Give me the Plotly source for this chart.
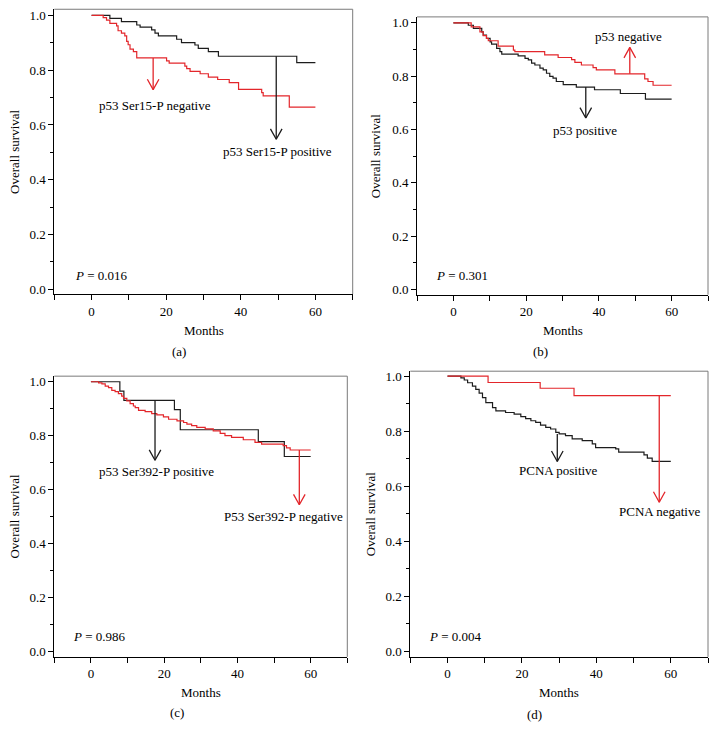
import plotly.graph_objects as go

W, H = 717, 744
FONT = "Liberation Serif"
BLACK = "#1c1c1c"
RED = "#e3262b"
FRAME = "#7a7a7a"

# ---------------- data (months, overall survival) ----------------
# (a) p53 Ser15-P
a_pos_t = [0, 4.9, 8.0, 12.1, 13.0, 16.1, 17.0, 17.9, 22.8, 24.1, 27.7, 28.6, 31.3, 34.0, 55.0, 60]
a_pos_s = [1.0, 0.989, 0.977, 0.965, 0.957, 0.947, 0.935, 0.925, 0.913, 0.901, 0.892, 0.880, 0.868, 0.851, 0.828, 0.828]
a_neg_t = [0, 3.1, 4.0, 4.9, 6.7, 7.1, 8.0, 8.9, 9.4, 9.8, 10.3, 11.2, 12.1, 20.1, 20.8, 25.0, 25.5,
           26.4, 29.1, 31.3, 33.8, 36.9, 39.4, 45.6, 46.0, 53.0, 60]
a_neg_s = [1.0, 0.992, 0.983, 0.971, 0.962, 0.944, 0.935, 0.925, 0.905, 0.893, 0.877, 0.868, 0.845, 0.834, 0.826,
           0.815, 0.806, 0.796, 0.787, 0.775, 0.766, 0.755, 0.730, 0.718, 0.706, 0.665, 0.665]

# (b) p53
b_pos_t = [0, 4.1, 5.5, 7.8, 8.2, 9.1, 10.1, 10.5, 11.9, 12.8, 13.3, 17.8, 19.7, 20.6, 21.5, 22.4, 23.8, 24.7,
           25.6, 26.5, 27.4, 28.3, 30.2, 33.8, 38.8, 45.9, 52.8, 60]
b_pos_s = [1.0, 0.991, 0.979, 0.966, 0.954, 0.942, 0.929, 0.920, 0.904, 0.892, 0.883, 0.876, 0.867, 0.861, 0.849,
           0.842, 0.830, 0.824, 0.811, 0.799, 0.793, 0.780, 0.768, 0.759, 0.749, 0.735, 0.714, 0.714]
b_neg_t = [0, 4.9, 7.3, 8.2, 9.1, 9.6, 12.3, 16.5, 16.9, 25.1, 28.8, 32.5, 33.4, 35.2, 38.4, 39.3, 44.4,
           52.6, 53.5, 54.9, 60]
b_neg_s = [1.0, 0.985, 0.966, 0.952, 0.942, 0.933, 0.913, 0.898, 0.892, 0.880, 0.870, 0.862, 0.852, 0.842, 0.832,
           0.824, 0.809, 0.790, 0.780, 0.766, 0.766]

# (c) p53 Ser392-P
c_pos_t = [0, 7.9, 9.0, 22.8, 24.4, 45.7, 52.8, 60]
c_pos_s = [1.0, 0.965, 0.931, 0.897, 0.822, 0.778, 0.723, 0.723]
c_neg_t = [0, 2.1, 3.0, 3.9, 4.8, 5.7, 6.6, 7.5, 8.4, 8.9, 9.8, 10.7, 11.6, 12.1, 13.0, 14.8, 16.6, 18.0, 19.8,
           21.2, 23.5, 25.3, 26.2, 27.5, 28.9, 31.2, 33.4, 35.3, 36.6, 38.4, 41.6, 44.8, 46.6, 52.5, 53.4, 54.4, 60]
c_neg_s = [1.0, 0.996, 0.992, 0.984, 0.978, 0.968, 0.963, 0.956, 0.947, 0.938, 0.929, 0.919, 0.910, 0.904, 0.894,
           0.889, 0.882, 0.877, 0.870, 0.861, 0.855, 0.849, 0.843, 0.837, 0.831, 0.825, 0.818, 0.809, 0.800,
           0.794, 0.785, 0.775, 0.769, 0.763, 0.755, 0.747, 0.747]

# (d) PCNA
d_pos_t = [0, 3.6, 4.5, 5.4, 6.7, 7.6, 8.5, 9.4, 10.3, 12.1, 13.0, 15.6, 17.9, 19.7, 21.0, 22.4, 23.7, 25.0,
           26.4, 27.7, 29.1, 30.0, 31.7, 33.5, 36.2, 38.9, 39.8, 45.2, 46.0, 52.8, 53.7, 55.0, 60]
d_pos_s = [1.0, 0.994, 0.986, 0.976, 0.964, 0.952, 0.938, 0.922, 0.904, 0.886, 0.874, 0.868, 0.862, 0.853, 0.846,
           0.838, 0.832, 0.822, 0.814, 0.808, 0.796, 0.790, 0.784, 0.772, 0.766, 0.754, 0.740, 0.736, 0.724,
           0.714, 0.702, 0.690, 0.690]
d_neg_t = [0, 10.9, 24.9, 34.0, 60]
d_neg_s = [1.0, 0.977, 0.956, 0.929, 0.929]

# arrows: (month, survival at start, survival at tip)
a_arrows = [(16.5, 0.845, 0.729, "red"), (49.5, 0.851, 0.548, "black")]
b_arrows = [(36.4, 0.759, 0.643, "black"), (48.5, 0.809, 0.908, "red")]
c_arrows = [(17.5, 0.931, 0.709, "black"), (56.9, 0.747, 0.544, "red")]
d_arrows = [(29.5, 0.790, 0.690, "black"), (56.9, 0.929, 0.542, "red")]

# curve labels: (text, month, survival)
a_labels = [("p53 Ser15-P negative", 17.0, 0.672), ("p53 Ser15-P positive", 49.8, 0.503)]
b_labels = [("p53 negative", 48.2, 0.950), ("p53 positive", 36.1, 0.596)]
c_labels = [("p53 Ser392-P positive", 17.8, 0.666), ("P53 Ser392-P negative", 52.5, 0.502)]
d_labels = [("PCNA positive", 29.7, 0.656), ("PCNA negative", 57.0, 0.509)]

p_values = ["0.016", "0.301", "0.986", "0.004"]
p_pos = [(-4.9, 0.052), (-5.2, 0.053), (-5.5, 0.056), (-5.6, 0.054)]
panel_letters = ["(a)", "(b)", "(c)", "(d)"]

x_ticks = [0, 20, 40, 60]
y_ticks = [0.0, 0.2, 0.4, 0.6, 0.8, 1.0]

# ---------------- layout geometry (pixels) ----------------
# box: left, right, top, bottom ; yr: y-range
panels = [
    dict(box=(54.3, 352.7, 7.3, 294.0), yr=(-0.017, 1.0225), months=(204, 331), letter=(179, 352), ylab=(15, 151),
         curves=[(a_pos_t, a_pos_s, BLACK), (a_neg_t, a_neg_s, RED)], arrows=a_arrows, labels=a_labels),
    dict(box=(417.0, 708.0, 15.0, 294.7), yr=(-0.020, 1.0224), months=(563, 331), letter=(540.7, 352), ylab=(376.3, 155),
         curves=[(b_pos_t, b_pos_s, BLACK), (b_neg_t, b_neg_s, RED)], arrows=b_arrows, labels=b_labels),
    dict(box=(54.3, 347.3, 376.7, 659.3), yr=(-0.0195, 1.0206), months=(200.7, 694.7), letter=(176.7, 715.3), ylab=(15, 518),
         curves=[(c_pos_t, c_pos_s, BLACK), (c_neg_t, c_neg_s, RED)], arrows=c_arrows, labels=c_labels),
    dict(box=(410.3, 708.0, 371.7, 659.3), yr=(-0.020, 1.018), months=(559, 694.7), letter=(534.7, 717), ylab=(370.7, 515),
         curves=[(d_pos_t, d_pos_s, BLACK), (d_neg_t, d_neg_s, RED)], arrows=d_arrows, labels=d_labels),
]
XR = (-10, 70)

fig = go.Figure()
annotations = []
shapes = []
layout = {}

def px_x(v):
    return v / W

def px_y(v):
    return 1 - v / H

for i, p in enumerate(panels):
    n = "" if i == 0 else str(i + 1)
    xa, ya = "x" + n, "y" + n
    L, R, T, B = p["box"]
    y0, y1 = p["yr"]
    font = dict(family=FONT, size=13, color="black")
    layout["xaxis" + n] = dict(
        domain=[px_x(L), px_x(R)], range=list(XR), anchor=ya, showgrid=False, zeroline=False,
        showline=True, linecolor="black", linewidth=1, mirror=False,
        ticks="outside", ticklen=5, tickwidth=1, tickcolor="black",
        tickvals=x_ticks, tickfont=font,
        minor=dict(tickvals=[-10, 10, 30, 50, 70], ticks="outside", ticklen=5, tickcolor="black"),
    )
    layout["yaxis" + n] = dict(
        domain=[px_y(B), px_y(T)], range=[y0, y1], anchor=xa, showgrid=False, zeroline=False,
        showline=True, linecolor="black", linewidth=1,
        ticks="outside", ticklen=5, tickwidth=1, tickcolor="black",
        tickvals=y_ticks, ticktext=["%.1f" % v for v in y_ticks], tickfont=font,
        minor=dict(tickvals=[0.1, 0.3, 0.5, 0.7, 0.9], ticks="outside", ticklen=3, tickcolor="black"),
    )
    # top / right frame
    shapes.append(dict(type="line", xref=xa + " domain", yref=ya + " domain", x0=0, x1=1, y0=1, y1=1,
                       line=dict(color=FRAME, width=1)))
    shapes.append(dict(type="line", xref=xa + " domain", yref=ya + " domain", x0=1, x1=1, y0=0, y1=1,
                       line=dict(color=FRAME, width=1)))

    for t, s, col in p["curves"]:
        fig.add_trace(go.Scatter(x=t, y=s, mode="lines", line=dict(color=col, width=1.2, shape="hv"),
                                 xaxis=xa, yaxis=ya, showlegend=False, hoverinfo="skip"))

    # arrows
    sx = (R - L) / (XR[1] - XR[0])        # px per month
    sy = (B - T) / (y1 - y0)              # px per survival unit
    hx, hy = 5.8 / sx, 10.5 / sy
    for (mx, s0, s1, c) in p["arrows"]:
        col = RED if c == "red" else BLACK
        d = 1 if s1 < s0 else -1
        fig.add_trace(go.Scatter(x=[mx, mx], y=[s0, s1], mode="lines", line=dict(color=col, width=1.3),
                                 xaxis=xa, yaxis=ya, showlegend=False, hoverinfo="skip"))
        fig.add_trace(go.Scatter(x=[mx - hx, mx, mx + hx], y=[s1 + d * hy, s1, s1 + d * hy], mode="lines",
                                 line=dict(color=col, width=1.3), xaxis=xa, yaxis=ya,
                                 showlegend=False, hoverinfo="skip"))

    for (txt, mx, sv) in p["labels"]:
        annotations.append(dict(text=txt, x=mx, y=sv, xref=xa, yref=ya, showarrow=False,
                                xanchor="center", yanchor="middle", font=font))

    px_, py_ = p_pos[i]
    annotations.append(dict(text="<i>P</i> = " + p_values[i], x=px_, y=py_, xref=xa, yref=ya, showarrow=False,
                            xanchor="left", yanchor="middle", font=font))

    mxp, myp = p["months"]
    annotations.append(dict(text="Months", x=px_x(mxp), y=px_y(myp), xref="paper", yref="paper",
                            showarrow=False, xanchor="center", yanchor="middle", font=font))
    lxp, lyp = p["letter"]
    annotations.append(dict(text=panel_letters[i], x=px_x(lxp), y=px_y(lyp), xref="paper", yref="paper",
                            showarrow=False, xanchor="center", yanchor="middle", font=font))
    yxp, yyp = p["ylab"]
    annotations.append(dict(text="Overall survival", x=px_x(yxp), y=px_y(yyp), xref="paper", yref="paper",
                            showarrow=False, xanchor="center", yanchor="middle", textangle=-90, font=font))

fig.update_layout(
    width=W, height=H, margin=dict(l=0, r=0, t=0, b=0),
    paper_bgcolor="white", plot_bgcolor="white",
    font=dict(family=FONT, size=13, color="black"),
    annotations=annotations, shapes=shapes, **layout,
)

fig.write_html("out.html", config={"displayModeBar": False},
               post_script="document.body.style.margin='0';document.body.style.overflow='hidden';")
